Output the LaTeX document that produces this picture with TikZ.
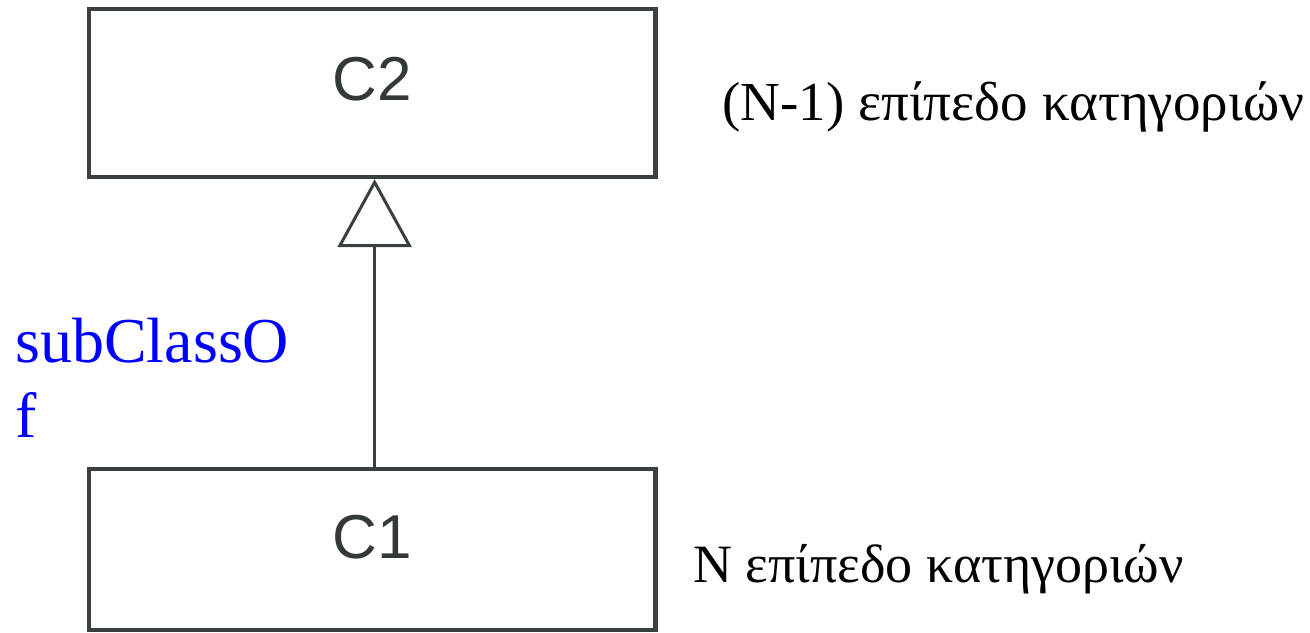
\documentclass[tikz,border=0pt]{standalone}
\usepackage{fontspec}
\setmainfont{Liberation Serif}
\newfontfamily\helv{Liberation Sans}
\usetikzlibrary{arrows.meta}
\definecolor{boxline}{HTML}{3A3F3F}
\definecolor{boxtext}{HTML}{333838}
\begin{document}
\begin{tikzpicture}[x=0.5pt,y=-0.5pt]
\tikzset{
  classbox/.style={draw=boxline, line width=2.2pt, fill=white, inner sep=0pt,
    font=\helv\fontsize{31pt}{36pt}\selectfont, text=boxtext},
  lbl/.style={inner sep=0pt, anchor=base west},
  inherit/.style={draw=boxline, line width=1.5pt,
    -{Triangle[open, length=34pt, width=37pt, line width=1.5pt]}}
}
\useasboundingbox (0,0) rectangle (1310,632);
\node[classbox, minimum width=283.25pt, minimum height=84pt, text depth=14pt] (c2) at (372.25,93) {C2};
\node[classbox, minimum width=283.25pt, minimum height=80.5pt, text depth=13pt] (c1) at (372.25,549.5) {C1};
\draw[inherit] ([xshift=1.2pt]c1.north) -- ([xshift=1.2pt]c2.south);
\node[lbl, font=\fontsize{27.5pt}{32pt}\selectfont] (l2) at (722,120) {(N-1) επίπεδο κατηγοριών};
\node[lbl, font=\fontsize{27pt}{32pt}\selectfont] (l1) at (693,582) {N επίπεδο κατηγοριών};
\node[lbl, text=blue, font=\fontsize{32pt}{38pt}\selectfont] (sub) at (15,362) {subClassO};
\node[lbl, text=blue, font=\fontsize{32pt}{38pt}\selectfont] (subf) at (15,437) {f};
\end{tikzpicture}
\end{document}
